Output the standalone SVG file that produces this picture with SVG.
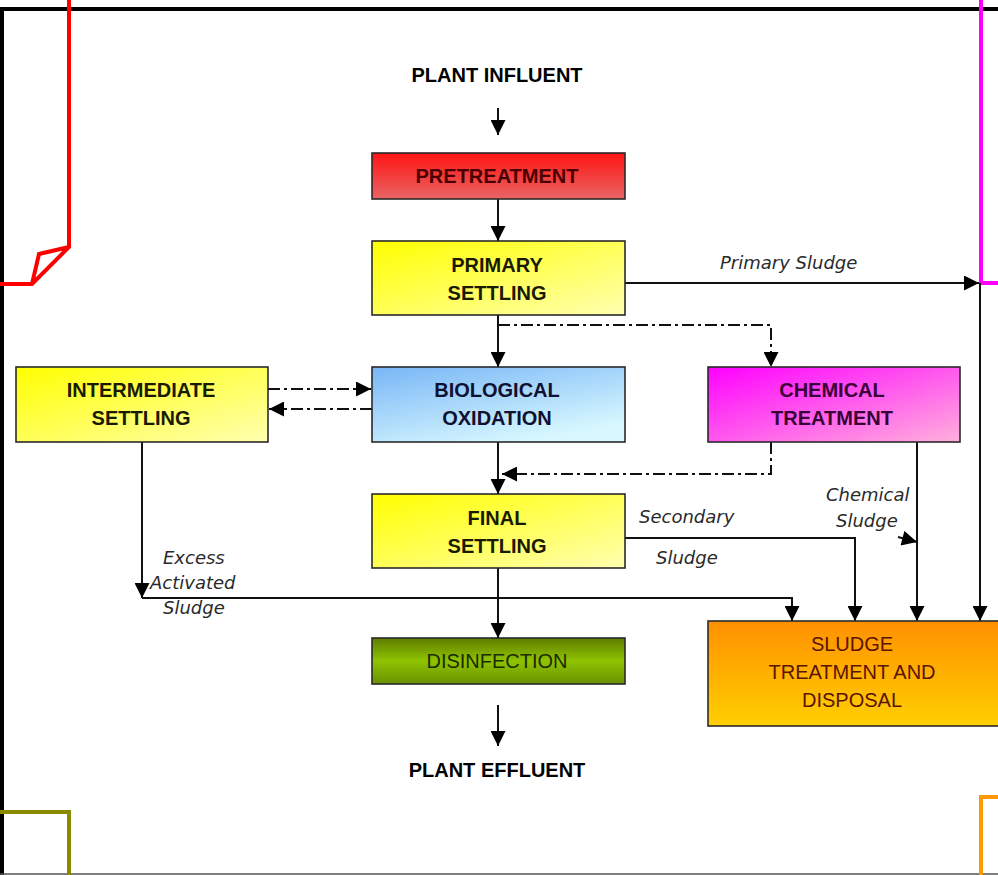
<svg xmlns="http://www.w3.org/2000/svg" width="998" height="875" viewBox="0 0 998 875">
<defs>
<style>
.box{stroke:#2a2a2a;stroke-width:1.6}
.t{font-family:"Liberation Sans",Arial,sans-serif;font-weight:bold;font-size:20px;text-anchor:middle}
.tn{font-family:"Liberation Sans",Arial,sans-serif;font-size:20px;text-anchor:middle}
.lab{font-family:"DejaVu Sans",sans-serif;font-style:italic;font-size:18px;fill:#2a2a2a}
.c{fill:none;stroke:#111;stroke-width:2}
.dd{fill:none;stroke:#111;stroke-width:2;stroke-dasharray:12 4 3 4}
.a{marker-end:url(#ah)}
</style>
<marker id="ah" viewBox="0 0 10 10" refX="10" refY="5" markerWidth="17" markerHeight="15" markerUnits="userSpaceOnUse" orient="auto">
<path d="M0,0 L10,5 L0,10 z" fill="#000"/>
</marker>
<linearGradient id="gRed" x1="0" y1="0" x2="0" y2="1"><stop offset="0" stop-color="#ff1414"/><stop offset="1" stop-color="#e86464"/></linearGradient>
<linearGradient id="gYel" x1="0" y1="0" x2="1" y2="1"><stop offset="0" stop-color="#ffff00"/><stop offset="1" stop-color="#ffffb0"/></linearGradient>
<linearGradient id="gBlue" x1="0" y1="0" x2="0.6" y2="1"><stop offset="0" stop-color="#78b6f6"/><stop offset="1" stop-color="#d8f8ff"/></linearGradient>
<linearGradient id="gMag" x1="0" y1="0" x2="1" y2="1"><stop offset="0" stop-color="#ff00ff"/><stop offset="1" stop-color="#ffb0dc"/></linearGradient>
<linearGradient id="gOl" x1="0" y1="0" x2="0" y2="1"><stop offset="0" stop-color="#5e7c00"/><stop offset="0.5" stop-color="#8fc400"/><stop offset="1" stop-color="#6a9000"/></linearGradient>
<linearGradient id="gOr" x1="0" y1="0" x2="0" y2="1"><stop offset="0" stop-color="#ff9000"/><stop offset="1" stop-color="#ffd000"/></linearGradient>
</defs>
<rect width="998" height="875" fill="#fff"/>
<!-- frame and corner marks -->
<path d="M2,875 V9 H998" fill="none" stroke="#000" stroke-width="4"/>
<line x1="0" y1="874" x2="998" y2="874" stroke="#555" stroke-width="1.5"/>
<path d="M69,0 V247 L32,284 H0 M69,247 L39,254 L32,284" fill="none" stroke="#ff0000" stroke-width="4"/>
<path d="M981,0 V283 H998" fill="none" stroke="#ff00ff" stroke-width="4"/>
<path d="M0,812 H69 V875" fill="none" stroke="#8a8a00" stroke-width="4"/>
<path d="M981,875 V797 H998" fill="none" stroke="#ff9900" stroke-width="4"/>

<g id="connectors">
<path class="c a" d="M498,108 V135"/>
<path class="c a" d="M498,199 V241"/>
<path class="c a" d="M498,315 V367"/>
<path class="dd a" d="M498,325 H771 V367"/>
<path class="c a" d="M625,283 H979"/>
<path class="c a" d="M980,283 V621"/>
<path class="dd a" d="M268,389 H371"/>
<path class="dd a" d="M372,409 H269"/>
<path class="c a" d="M498,442 V494"/>
<path class="dd a" d="M771,442 V474 H502"/>
<path class="c a" d="M498,568 V638"/>
<path class="c a" d="M498,705 V746"/>
<path class="c a" d="M142,442 V598"/>
<path class="c a" d="M142,598 H792 V621"/>
<path class="c a" d="M625,538 H855 V621"/>
<path class="c a" d="M917,442 V621"/>
<path class="c a" d="M898,537 L917,542"/>
</g>

<g id="influent"><text class="t" x="497" y="82" fill="#000">PLANT INFLUENT</text></g>
<g id="pretreatment">
<rect class="box" x="372" y="153" width="253" height="46" fill="url(#gRed)"/>
<text class="t" x="497" y="183" fill="#4a0000">PRETREATMENT</text>
</g>
<g id="primary">
<rect class="box" x="372" y="241" width="253" height="74" fill="url(#gYel)"/>
<text class="t" x="497" y="272" fill="#1a1a00">PRIMARY</text>
<text class="t" x="497" y="300" fill="#1a1a00">SETTLING</text>
</g>
<g id="intermediate">
<rect class="box" x="16" y="367" width="252" height="75" fill="url(#gYel)"/>
<text class="t" x="141" y="397" fill="#1a1a00">INTERMEDIATE</text>
<text class="t" x="141" y="425" fill="#1a1a00">SETTLING</text>
</g>
<g id="biological">
<rect class="box" x="372" y="367" width="253" height="75" fill="url(#gBlue)"/>
<text class="t" x="497" y="397" fill="#101030">BIOLOGICAL</text>
<text class="t" x="497" y="425" fill="#101030">OXIDATION</text>
</g>
<g id="chemical">
<rect class="box" x="708" y="367" width="252" height="75" fill="url(#gMag)"/>
<text class="t" x="832" y="397" fill="#3a0038">CHEMICAL</text>
<text class="t" x="832" y="425" fill="#3a0038">TREATMENT</text>
</g>
<g id="final">
<rect class="box" x="372" y="494" width="253" height="74" fill="url(#gYel)"/>
<text class="t" x="497" y="525" fill="#1a1a00">FINAL</text>
<text class="t" x="497" y="553" fill="#1a1a00">SETTLING</text>
</g>
<g id="disinfection">
<rect class="box" x="372" y="638" width="253" height="46" fill="url(#gOl)"/>
<text class="tn" x="497" y="668" fill="#1c2a00">DISINFECTION</text>
</g>
<g id="sludge">
<rect class="box" x="708" y="621" width="300" height="105" fill="url(#gOr)"/>
<text class="tn" x="852" y="651" fill="#5a1400">SLUDGE</text>
<text class="tn" x="852" y="679" fill="#5a1400">TREATMENT AND</text>
<text class="tn" x="852" y="707" fill="#5a1400">DISPOSAL</text>
</g>
<g id="effluent"><text class="t" x="497" y="777" fill="#000">PLANT EFFLUENT</text></g>

<g id="labels">
<text class="lab" x="720" y="269">Primary Sludge</text>
<text class="lab" x="639" y="523">Secondary</text>
<text class="lab" x="656" y="564">Sludge</text>
<text class="lab" x="826" y="501">Chemical</text>
<text class="lab" x="836" y="527">Sludge</text>
<text class="lab" x="163" y="564">Excess</text>
<text class="lab" x="150" y="589">Activated</text>
<text class="lab" x="163" y="614">Sludge</text>
</g>
</svg>
